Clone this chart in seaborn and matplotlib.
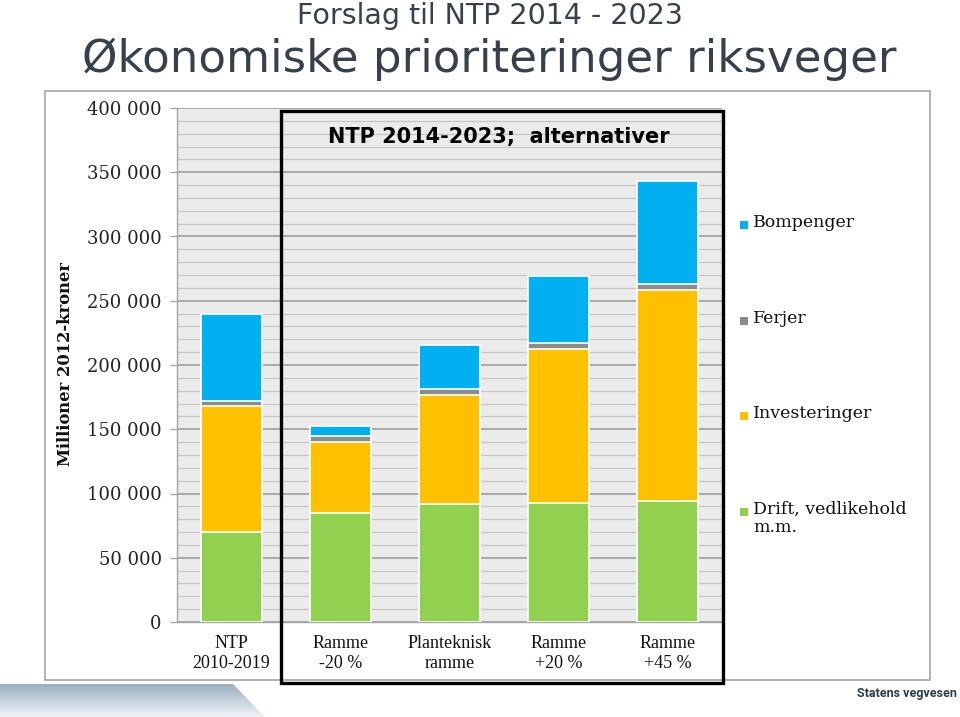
import numpy as np
import matplotlib
matplotlib.use("Agg")
import matplotlib.pyplot as plt
import seaborn as sns
from matplotlib.patches import Rectangle, Polygon
from matplotlib.ticker import MultipleLocator, FixedLocator, FixedFormatter

# ---------------- data ----------------
categories = ["NTP\n2010-2019", "Ramme\n-20 %", "Planteknisk\nramme", "Ramme\n+20 %", "Ramme\n+45 %"]
drift = [70000, 84600, 91800, 92300, 94400]
investeringer = [98000, 55400, 84600, 120100, 163900]
ferjer = [4200, 4700, 4600, 4600, 4400]
bompenger = [67400, 8000, 34300, 52200, 80700]
series_names = ["Drift, vedlikehold\nm.m.", "Investeringer", "Ferjer", "Bompenger"]
series_colors = ["#92D050", "#FFC000", "#8C8C8C", "#00B0F0"]
y_tick_values = [0, 50000, 100000, 150000, 200000, 250000, 300000, 350000, 400000]
y_tick_labels = ["0", "50 000", "100 000", "150 000", "200 000", "250 000", "300 000", "350 000", "400 000"]
title_top = "Forslag til NTP 2014 - 2023"
title_main = "Økonomiske prioriteringer riksveger"
box_title = "NTP 2014-2023;  alternativer"
y_label = "Millioner 2012-kroner"

# ---------------- figure ----------------
sns.set_theme(style="white")
plt.rcParams["font.family"] = ["DejaVu Sans"]
W, H = 960, 717
fig = plt.figure(figsize=(W / 100, H / 100), dpi=100)
fig.patch.set_facecolor("white")


def fx(x):
    return x / W


def fy(y):
    return 1 - y / H


# chart frame
fig.add_artist(Rectangle((fx(45), fy(680)), (930 - 45) / W, (680 - 91) / H,
                         transform=fig.transFigure, facecolor="white",
                         edgecolor="#A6A6A6", lw=1.2, zorder=0))

ax = fig.add_axes([fx(177), fy(622), 545 / W, 514 / H])
ax.set_facecolor("#EBEBEB")

layers = np.cumsum(np.array([drift, investeringer, ferjer, bompenger]), axis=0)
for i in reversed(range(len(series_names))):
    sns.barplot(x=categories, y=layers[i], color=series_colors[i], saturation=1,
                width=0.56, edgecolor="white", linewidth=1.2, ax=ax, zorder=3)

ax.set_ylim(0, 400000)
ax.set_xlim(-0.5, 4.5)
ax.yaxis.set_major_locator(FixedLocator(y_tick_values))
ax.yaxis.set_major_formatter(FixedFormatter(y_tick_labels))
ax.yaxis.set_minor_locator(MultipleLocator(10000))
ax.grid(which="major", axis="y", color="#A3A3A3", lw=1.3, zorder=0)
ax.grid(which="minor", axis="y", color="#C6C6C6", lw=0.9, zorder=0)
ax.grid(False, axis="x")
ax.set_axisbelow(True)
for s in ["top", "right"]:
    ax.spines[s].set_visible(False)
for s in ["left", "bottom"]:
    ax.spines[s].set_color("#A6A6A6")
    ax.spines[s].set_linewidth(1.0)
ax.tick_params(axis="y", which="major", length=5, width=1, color="#A6A6A6",
               direction="out", pad=6, labelsize=13, left=True)
ax.tick_params(axis="y", which="minor", length=0)
ax.tick_params(axis="x", length=0, pad=9)
for lab in ax.get_yticklabels():
    lab.set_fontfamily("DejaVu Serif")
    lab.set_color("#222222")
ax.set_xticks(range(len(categories)))
ax.set_xticklabels(categories, fontsize=13, family="Liberation Serif",
                   color="#111111", linespacing=1.3)
ax.set_xlabel("")
ax.set_ylabel("")

fig.text(fx(66), fy(364), y_label, rotation=90, ha="center", va="center",
         fontsize=11.8, fontweight="bold", family="DejaVu Serif", color="#111111")

# black box around alternatives
fig.add_artist(Rectangle((fx(281), fy(683)), (723 - 281) / W, (683 - 111) / H,
                         transform=fig.transFigure, fill=False, edgecolor="black",
                         lw=2.4, zorder=10))
fig.text(fx(499), fy(137), box_title, ha="center", va="center", fontsize=15,
         fontweight="bold", color="black", zorder=11)

# legend (manual, right side)
legend_y = [512, 416, 321, 225]
for name, col, yy in zip(series_names, series_colors, legend_y):
    fig.add_artist(Rectangle((fx(740), fy(yy + 4)), 8 / W, 8 / H,
                             transform=fig.transFigure, facecolor=col,
                             edgecolor="none", zorder=5))
    fig.text(fx(753), fy(yy - 11), name, ha="left", va="top", fontsize=12.5,
             family="DejaVu Serif", color="#111111", linespacing=1.05)

# titles
fig.text(fx(490), fy(16), title_top, ha="center", va="center", fontsize=20.5,
         color="#36414B")
fig.text(fx(489), fy(59), title_main, ha="center", va="center", fontsize=32.5,
         color="#36414B")

# footer gradient shape
gax = fig.add_axes([0, 0, 270 / W, (717 - 684) / H])
gax.set_xlim(0, 270)
gax.set_ylim(717, 684)
gax.axis("off")
top_c = np.array([0x9C, 0xB0, 0xC2]) / 255
bot_c = np.array([0xF0, 0xF3, 0xF6]) / 255
t = np.linspace(0, 1, 60)[:, None, None]
grad = np.repeat(top_c * (1 - t) + bot_c * t, 10, axis=1)
im = gax.imshow(grad, extent=[0, 270, 717, 684], aspect="auto")
poly = Polygon([(0, 684), (233, 684), (265, 717), (0, 717)], closed=True,
               transform=gax.transData)
im.set_clip_path(poly)

fig.text(fx(957), fy(694), "Statens vegvesen", ha="right", va="center",
         fontsize=9, fontweight="bold", family="Roboto", color="#2E3D4C")

fig.savefig("out.png", dpi=100)
